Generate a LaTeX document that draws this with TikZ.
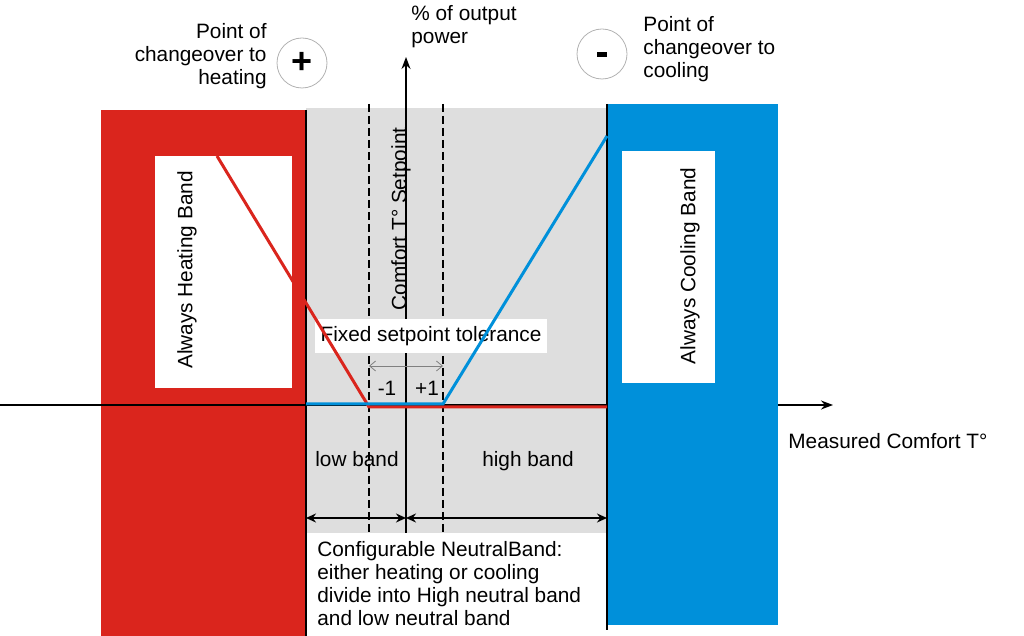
\documentclass[tikz,border=0pt]{standalone}
\usepackage{fontspec}
\setmainfont{Liberation Sans}
\usetikzlibrary{arrows.meta}
\definecolor{colHeat}{RGB}{218,37,29}
\definecolor{colCool}{RGB}{0,144,218}
\colorlet{colNeutral}{gray!26}

\begin{document}
\begin{tikzpicture}[x=0.5pt,y=-0.5pt,font=\fontsize{10.4}{11.5}\selectfont]
	\useasboundingbox (0,0) rectangle (1024,636);

 % ================================================================
 % Bands
 % ================================================================
	\fill[colNeutral] (306,108) rectangle (607,533);
	\fill[colHeat] (101,110) rectangle (305,636);
	\fill[white] (155,156) rectangle (292,388);

	% measured temperature axis
	\coordinate (X0) at (0,405);
	\coordinate (X1) at (833,405);
	\draw[line width=0.75pt,-{Stealth[length=6pt,width=4.5pt]}] (X0) -- (X1);

	\fill[colCool] (607,104) rectangle (778,625);
	\fill[white] (622,151) rectangle (715,383);

	% tolerance limits
	\draw[dashed,line width=0.6pt,dash pattern=on 4pt off 2pt] (369,104) -- (369,533);
	\draw[dashed,line width=0.6pt,dash pattern=on 4pt off 2pt] (443,104) -- (443,533);

	% band limits
	\draw[line width=1pt] (306,110) -- (306,636);
	\draw[line width=1pt] (607,104) -- (607,630);

	% power axis
	\coordinate (Y0) at (406,533);
	\coordinate (Y1) at (406,57);
	\draw[line width=0.75pt,-{Stealth[length=6pt,width=4.5pt]}] (Y0) -- (Y1);

        % tolerance box
        \node[fill=white,inner sep=0,minimum width=116pt,minimum height=17pt] (tol) at (431,336) {Fixed setpoint tolerance};

 % ================================================================
 % Output curves
 % ================================================================
	\draw[colHeat,line width=1.5pt] (217,156) -- (369,407) -- (607,407);
	\draw[colCool,line width=1.5pt] (306,404) -- (443,404) -- (607,136);

        % tolerance arrow
        \coordinate (T0) at (369,366);
        \coordinate (T1) at (443,366);
        \draw[gray,line width=0.4pt,{Straight Barb[length=3pt,width=5pt]}-{Straight Barb[length=3pt,width=5pt]}] (T0) -- (T1);
        \node (minus1) at (387,388) {-1};
        \node (plus1) at (427,388) {+1};

        % setpoint
        \node[rotate=90,inner sep=0] (setp) at (401,219) {Comfort T° Setpoint};

        % band texts
        \node[rotate=90,inner sep=0] (heatb) at (187,270) {Always Heating Band};
        \node[rotate=90,inner sep=0] (coolb) at (690,266) {Always Cooling Band};
        \node[inner sep=0] (lowb) at (357,459) {low band};
        \node[inner sep=0] (highb) at (528,461) {high band};

        % neutral band arrows
        \coordinate (N0) at (306,518);
        \coordinate (N1) at (406,518);
        \coordinate (N2) at (607,518);
        \draw[line width=0.75pt,{Stealth[length=5pt,width=4.5pt]}-{Stealth[length=5pt,width=4.5pt]}] (N0) -- (N1);
        \draw[line width=0.75pt,{Stealth[length=5pt,width=4.5pt]}-{Stealth[length=5pt,width=4.5pt]}] (N1) -- (N2);

        \fill[white] (307,533) rectangle (606,630);
        \node[inner sep=0,anchor=west,align=left] (neutral) at (317,584)
          {Configurable NeutralBand:\\either heating or cooling\\divide into High neutral band\\and low neutral band};

 % ================================================================
 % Titles
 % ================================================================
        \node[inner sep=0,anchor=west,align=left] (power) at (411,27) {\% of output\\power};
        \node[inner sep=0,anchor=west] (meas) at (788,441) {Measured Comfort T°};

        \node[inner sep=0,anchor=east,align=right] (toheat) at (267,56) {Point of\\changeover to\\heating};
        \node[draw=gray!60,line width=0.4pt,circle,minimum size=25pt,inner sep=0,font=\fontsize{18}{18}\selectfont\bfseries] (plus) at (302,63) {+};

        \node[inner sep=0,anchor=west,align=left] (tocool) at (643,49) {Point of\\changeover to\\cooling};
        \node[draw=gray!60,line width=0.4pt,circle,minimum size=25pt,inner sep=0] (minus) at (602,54) {};
        \fill (597,52.5) rectangle (607,57.5);

\end{tikzpicture}
\end{document}
